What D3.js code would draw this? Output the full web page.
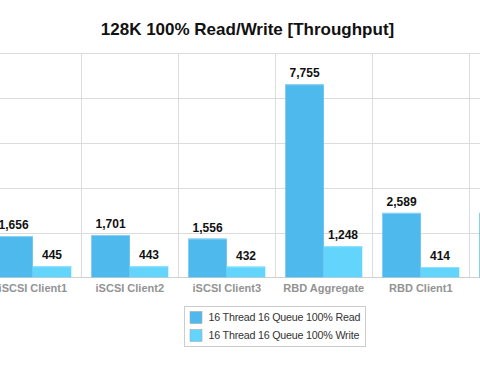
<!DOCTYPE html>
<html>
<head>
<meta charset="utf-8">
<script src="https://cdn.jsdelivr.net/npm/d3@7"></script>
<style>
  html, body { margin: 0; padding: 0; background: #fff; }
  svg { display: block; font-family: "Liberation Sans", Arial, Helvetica, sans-serif; }
</style>
</head>
<body>
<svg id="chart" width="480" height="368"></svg>
<script>
// ---- data ----
const title = "128K 100% Read/Write [Throughput]";
const categories = ["iSCSI Client1", "iSCSI Client2", "iSCSI Client3", "RBD Aggregate", "RBD Client1", "RBD Client2"];
const seriesNames = ["16 Thread 16 Queue 100% Read", "16 Thread 16 Queue 100% Write"];
const readValues  = [1656, 1701, 1556, 7755, 2589, 2590];
const writeValues = [445, 443, 432, 1248, 414, 410];
const yTicks = [0, 1800, 3600, 5400, 7200, 9000];

// ---- layout ----
const W = 480, H = 368;
const plotTop = 53.3, plotBottom = 277.3;
const bandStart = -15.7, bandStep = 97;
const colors = ["#4db9ec", "#63d5fd"];

const svg = d3.select("#chart");

const x0 = d3.scaleBand()
  .domain(categories)
  .range([bandStart, bandStart + bandStep * categories.length])
  .paddingInner(0).paddingOuter(0);

const x1 = d3.scaleBand()
  .domain(seriesNames)
  .range([0, x0.bandwidth()])
  .paddingInner(0).paddingOuter(0.26);

const y = d3.scaleLinear().domain([0, 9000]).range([plotBottom, plotTop]);

// only texts whose category lies inside the visible window are drawn
const inView = c => x0(c) + x0.bandwidth() / 2 < W;

// horizontal gridlines
svg.append("g").selectAll("line").data(yTicks).join("line")
  .attr("x1", 0).attr("x2", W)
  .attr("y1", d => Math.round(y(d)) + 0.5).attr("y2", d => Math.round(y(d)) + 0.5)
  .attr("stroke", d => d === 0 ? "#cfcfcf" : "#dcdcdc").attr("stroke-width", 1);

// vertical gridlines at category boundaries
const bounds = categories.map(c => x0(c)).concat([x0(categories[categories.length - 1]) + x0.bandwidth()]);
svg.append("g").selectAll("line").data(bounds).join("line")
  .attr("x1", d => Math.round(d) + 0.5).attr("x2", d => Math.round(d) + 0.5)
  .attr("y1", y(9000)).attr("y2", y(0))
  .attr("stroke", "#dcdcdc").attr("stroke-width", 1);

// bars
const rows = categories.map((c, i) => ({ cat: c, vals: [readValues[i], writeValues[i]] }));
const groups = svg.append("g").selectAll("g").data(rows).join("g")
  .attr("transform", d => `translate(${x0(d.cat)},0)`);

const cells = d => d.vals.map((v, j) => ({ v, s: seriesNames[j], j, cat: d.cat }));

groups.selectAll("rect").data(cells).join("rect")
  .attr("x", d => x1(d.s))
  .attr("y", d => y(d.v))
  .attr("width", x1.bandwidth())
  .attr("height", d => y(0) - y(d.v))
  .attr("fill", d => colors[d.j]);

// top highlight on bars
groups.selectAll("line.hl").data(cells).join("line")
  .attr("class", "hl")
  .attr("x1", d => x1(d.s)).attr("x2", d => x1(d.s) + x1.bandwidth())
  .attr("y1", d => y(d.v) + 0.5).attr("y2", d => y(d.v) + 0.5)
  .attr("stroke", d => d.j === 0 ? "#8fd3f5" : "#8ee2fe").attr("stroke-width", 1);

// value labels
const fmt = d3.format(",");
groups.selectAll("text").data(d => inView(d.cat) ? cells(d) : []).join("text")
  .attr("x", d => x1(d.s) + x1.bandwidth() / 2)
  .attr("y", d => y(d.v) - 7)
  .attr("text-anchor", "middle")
  .attr("font-size", 12).attr("font-weight", "bold").attr("fill", "#111")
  .text(d => fmt(d.v));

// category labels
svg.append("g").selectAll("text").data(categories.filter(inView)).join("text")
  .attr("x", d => x0(d) + x0.bandwidth() / 2)
  .attr("y", 292)
  .attr("text-anchor", "middle")
  .attr("font-size", 11).attr("font-weight", "bold").attr("fill", "#939393")
  .text(d => d);

// title
svg.append("text")
  .attr("x", 247.5).attr("y", 34.5)
  .attr("text-anchor", "middle")
  .attr("font-size", 17).attr("font-weight", "bold").attr("fill", "#111")
  .text(title);

// legend
const lg = svg.append("g");
lg.append("rect").attr("x", 184.5).attr("y", 306.5).attr("width", 181).attr("height", 40)
  .attr("fill", "#fff").attr("stroke", "#cccccc");
const items = lg.selectAll("g").data(seriesNames).join("g")
  .attr("transform", (d, i) => `translate(190,${311.5 + i * 18})`);
items.append("rect").attr("width", 12).attr("height", 12)
  .attr("fill", (d, i) => colors[i]).attr("stroke", "#a8a8a8").attr("stroke-width", 0.6);
items.append("text").attr("x", 18.5).attr("y", 9.7)
  .attr("font-size", 10.7).attr("letter-spacing", -0.2).attr("fill", "#333")
  .text(d => d);
</script>
</body>
</html>
